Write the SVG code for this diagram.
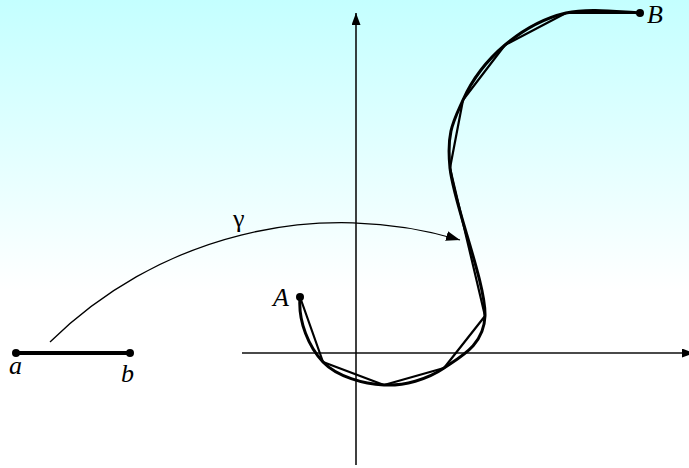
<svg xmlns="http://www.w3.org/2000/svg" width="689" height="468" viewBox="0 0 689 468">
<defs>
<linearGradient id="bg" x1="0" y1="0" x2="0" y2="1">
<stop offset="0" stop-color="#c4ffff"/>
<stop offset="0.62" stop-color="#ffffff"/>
<stop offset="1" stop-color="#ffffff"/>
</linearGradient>
<marker id="ah" viewBox="0 0 14 10" refX="14" refY="5" markerWidth="14" markerHeight="10" markerUnits="userSpaceOnUse" orient="auto">
<path d="M0,0 L14,5 L0,10 Z" fill="#000"/>
</marker>
<marker id="ahy" viewBox="0 0 12 9" refX="12" refY="4.5" markerWidth="12" markerHeight="9" markerUnits="userSpaceOnUse" orient="auto">
<path d="M0,0 L12,4.5 L0,9 Z" fill="#000"/>
</marker>
</defs>
<style>
.lbl{font-family:"Liberation Serif","Times New Roman","DejaVu Serif",serif;font-size:26px;font-style:italic;fill:#000}
.gam{font-family:"Liberation Serif","Times New Roman","DejaVu Serif",serif;font-size:26px;fill:#000}
.dot{fill:#000}
</style>
<rect x="0" y="0" width="689" height="468" fill="url(#bg)"/>
<g id="axes">
<line x1="242" y1="353" x2="694" y2="353" stroke="#4a4a4a" stroke-width="2" marker-end="url(#ahy)"/>
<line x1="356" y1="465" x2="356" y2="13" stroke="#000" stroke-width="1.5" marker-end="url(#ahy)"/>
</g>
<g id="segment">
<line x1="16" y1="353" x2="130" y2="353" stroke="#000" stroke-width="4"/>
<circle class="dot" cx="16" cy="353" r="4"/>
<circle class="dot" cx="130" cy="353" r="4"/>
<text class="lbl" x="9" y="374">a</text>
<text class="lbl" x="121" y="382">b</text>
</g>
<g id="curve">
<path d="M300,297 C298,322 309,347 323,362 C337,376.7 363.8,384 384,385 C404.2,386 427.2,379.5 444,368 C460.8,356.5 484,345 485,316 C486,282.7 453.7,204 450,168 C446.3,132 453.8,120.5 463,100 C472.2,79.5 487.8,59.5 505,45 C522.2,30.5 543.5,18.3 566,13 C588.5,7.7 620,12 640,13" fill="none" stroke="#000" stroke-width="3" stroke-linejoin="round"/>
<polyline points="300,297 323,362 384,385 444,368 485,316 450,168 463,100 505,45 566,13 640,13" fill="none" stroke="#000" stroke-width="2.2" stroke-linejoin="round"/>
<circle class="dot" cx="300" cy="297" r="4"/>
<circle class="dot" cx="640" cy="13" r="4"/>
<text class="lbl" x="273" y="306">A</text>
<text class="lbl" x="647" y="23">B</text>
</g>
<g id="connectors">
<path d="M50,342 A415.6,415.6 0 0 1 460,240" fill="none" stroke="#000" stroke-width="1.3" marker-end="url(#ah)"/>
<text class="gam" x="233" y="227">γ</text>
</g>
</svg>
